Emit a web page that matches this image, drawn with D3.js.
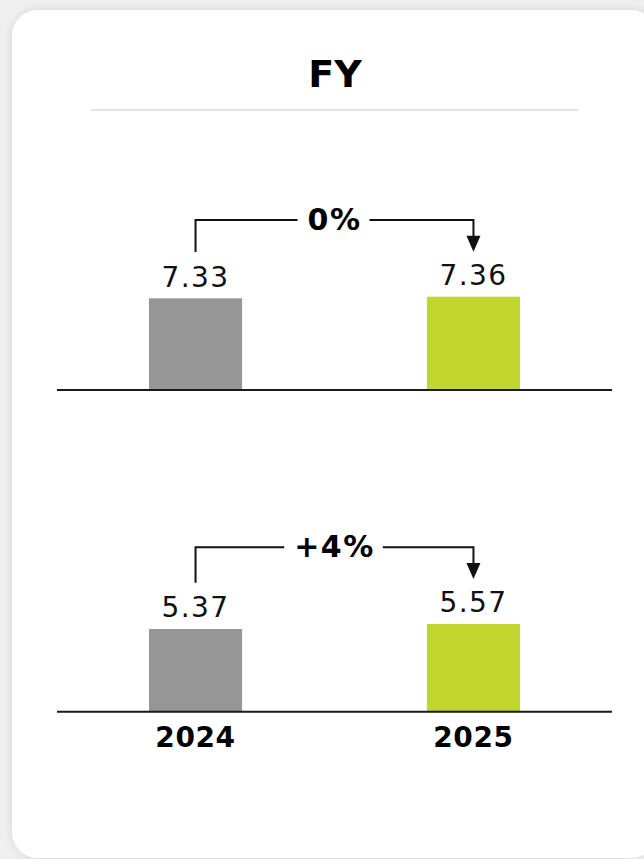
<!DOCTYPE html>
<html>
<head>
<meta charset="utf-8">
<script src="https://cdn.jsdelivr.net/npm/d3@7"></script>
<style>
  html, body { margin: 0; padding: 0; background: #efefef; }
  svg { display: block; }
</style>
</head>
<body>
<svg id="chart" width="644" height="859"></svg>
<script>
// Fiscal-year comparison: two metrics, each shown as a 2024 vs 2025 pair
const years = ["2024", "2025"];
const values2024 = [7.33, 5.37];
const values2025 = [7.36, 5.57];
const changeLabels = ["0%", "+4%"];
const title = "FY";

const W = 644, H = 859;
const svg = d3.select("#chart");

// card shadow + card
const defs = svg.append("defs");
const f = defs.append("filter").attr("id", "shadow").attr("x", "-10%").attr("y", "-10%").attr("width", "120%").attr("height", "120%");
f.append("feGaussianBlur").attr("in", "SourceAlpha").attr("stdDeviation", 5);
f.append("feOffset").attr("dx", 0).attr("dy", 0).attr("result", "b");
f.append("feComponentTransfer").append("feFuncA").attr("type", "linear").attr("slope", 0.12);
const m = f.append("feMerge");
m.append("feMergeNode");
m.append("feMergeNode").attr("in", "SourceGraphic");

svg.append("rect").attr("x", 0).attr("y", 0).attr("width", W).attr("height", H).attr("fill", "#efefef");
svg.append("rect")
  .attr("x", 12).attr("y", 10).attr("width", 645).attr("height", 848)
  .attr("rx", 26).attr("ry", 26)
  .attr("fill", "#ffffff")
  .attr("filter", "url(#shadow)");

const font = "Verdana, 'DejaVu Sans', sans-serif";

// title and rule
svg.append("text")
  .attr("x", 335).attr("y", 87)
  .attr("text-anchor", "middle")
  .attr("font-family", font)
  .attr("font-weight", "bold")
  .attr("font-size", 38)
  .attr("fill", "#000")
  .text(title);
svg.append("line")
  .attr("x1", 91).attr("x2", 578).attr("y1", 110).attr("y2", 110)
  .attr("stroke", "#e3e3e3").attr("stroke-width", 2);

const x = d3.scaleBand()
  .domain(years)
  .range([57, 612])
  .paddingInner(0.665)
  .paddingOuter(0.331);

const colors = d3.scaleOrdinal().domain(years).range(["#969696", "#c1d730"]);

// each panel has its own baseline and value scale
const panels = [
  { baseline: 390, floor: 5.6, height: 93.3 },
  { baseline: 711.7, floor: 2.06, height: 87.7 }
];

panels.forEach((p, i) => {
  const vals = [values2024[i], values2025[i]];
  const rows = years.map((yr, k) => ({ year: yr, value: vals[k] }));
  const y = d3.scaleLinear()
    .domain([p.floor, d3.max(vals)])
    .range([p.baseline, p.baseline - p.height]);

  const g = svg.append("g");

  g.selectAll("rect.bar")
    .data(rows)
    .join("rect")
    .attr("class", "bar")
    .attr("x", d => x(d.year))
    .attr("width", x.bandwidth())
    .attr("y", d => y(d.value))
    .attr("height", d => p.baseline - y(d.value))
    .attr("fill", d => colors(d.year));

  // baseline axis
  const axis = g.append("g")
    .attr("transform", `translate(0,${p.baseline})`)
    .call(d3.axisBottom(x).tickSize(0).tickPadding(14));
  axis.select(".domain").attr("stroke", "#1a1a1a").attr("stroke-width", 2)
    .attr("d", "M57,0H612");
  if (i === panels.length - 1) {
    axis.selectAll(".tick text")
      .attr("font-family", font)
      .attr("font-weight", "bold")
      .attr("font-size", 28)
      .attr("letter-spacing", 0.6)
      .attr("fill", "#000")
      .attr("dy", "0.71em")
      .attr("y", 15);
  } else {
    axis.selectAll(".tick text").remove();
  }

  // value labels
  g.selectAll("text.val")
    .data(rows)
    .join("text")
    .attr("class", "val")
    .attr("x", d => x(d.year) + x.bandwidth() / 2)
    .attr("y", d => y(d.value) - 11.7)
    .attr("text-anchor", "middle")
    .attr("font-family", font)
    .attr("font-size", 28)
    .attr("letter-spacing", 1.4)
    .attr("fill", "#111")
    .text(d => d.value.toFixed(2));

  // change connector
  const cx0 = x(years[0]) + x.bandwidth() / 2;
  const cx1 = x(years[1]) + x.bandwidth() / 2;
  const top0 = y(vals[0]), top1 = y(vals[1]);
  const lineY = Math.min(top0, top1) - 76.7;
  const startY = top0 - 46.3;
  const tipY = top1 - 45;
  const headH = 16, headW = 7;

  g.append("path")
    .attr("d", `M${cx0},${startY}V${lineY}H${cx1}V${tipY - headH + 1}`)
    .attr("fill", "none")
    .attr("stroke", "#111")
    .attr("stroke-width", 2);
  g.append("path")
    .attr("d", `M${cx1 - headW},${tipY - headH}L${cx1 + headW},${tipY - headH}L${cx1},${tipY}Z`)
    .attr("fill", "#111");

  const mid = (cx0 + cx1) / 2;
  const gapRect = g.append("rect").attr("fill", "#fff");
  const lbl = g.append("text")
    .attr("x", mid)
    .attr("y", lineY + 10)
    .attr("text-anchor", "middle")
    .attr("font-family", font)
    .attr("font-weight", "bold")
    .attr("font-size", 30)
    .attr("letter-spacing", 1.5)
    .attr("fill", "#000")
    .text(changeLabels[i]);
  const bb = lbl.node().getBBox();
  gapRect
    .attr("x", bb.x - 10)
    .attr("y", lineY - 4)
    .attr("width", bb.width + 18)
    .attr("height", 8);
});
</script>
</body>
</html>
